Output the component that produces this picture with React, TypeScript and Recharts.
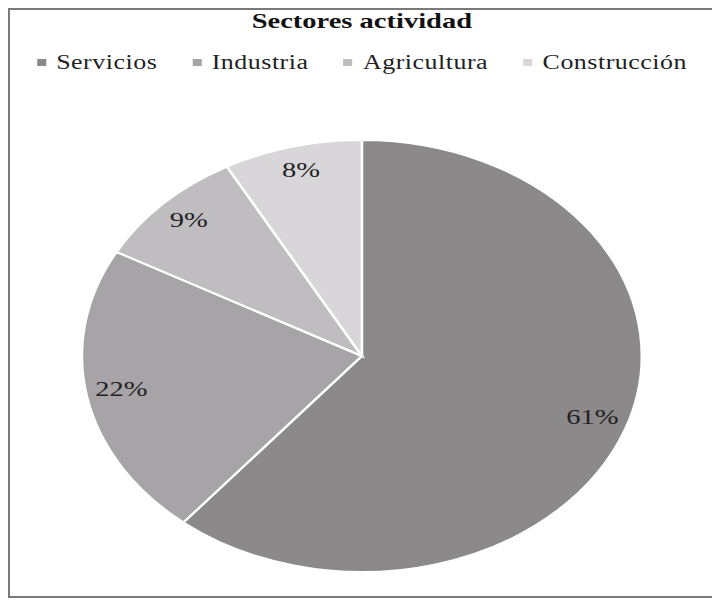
import { PieChart, Pie, Cell, Legend } from 'recharts'

const sectors = ['Servicios', 'Industria', 'Agricultura', 'Construcción']
const shares = [61, 22, 9, 8]
const colors = ['#8c898b', '#a7a4a7', '#c0bdc1', '#d9d6da']

const data = sectors.map((name, i) => ({ name, value: shares[i] }))

// the original picture is stretched horizontally
const STRETCH = 1.296
const W = 560
const CW = 543 // visible width, used for centering title / legend / pie
const H = 588
const RAD = Math.PI / 180

const renderLabel = (props: any) => {
  const { cx, cy, midAngle, outerRadius, value } = props
  const r = outerRadius * 0.875
  const x = cx + r * Math.cos(-midAngle * RAD)
  const y = cy + r * Math.sin(-midAngle * RAD) - 3
  return (
    <text
      x={x}
      y={y}
      textAnchor="middle"
      dominantBaseline="central"
      fill="#222"
      fontSize={22}
      fontFamily="'Liberation Serif', serif"
    >
      {value}%
    </text>
  )
}

// keep the legend in the original order (recharts sorts it otherwise)
const renderLegend = () => (
  <div style={{ display: 'flex', justifyContent: 'center', gap: 27, fontFamily: "'Liberation Serif', serif", fontSize: 20, lineHeight: '20px', letterSpacing: 0.4, color: '#222' }}>
    {sectors.map((s, i) => (
      <div key={s} style={{ display: 'flex', alignItems: 'center' }}>
        <span style={{ display: 'inline-block', width: 7, height: 7, background: colors[i], marginRight: 8 }} />
        <span>{s}</span>
      </div>
    ))}
  </div>
)

export default function App() {
  return (
    <>
      <style>{'html, body { overflow: hidden; }'}</style>
      <div
        style={{
          position: 'relative',
          width: 710,
          height: 586,
          borderLeft: '2px solid #7a7a7a',
          borderTop: '2px solid #7a7a7a',
          borderBottom: '2px solid #7a7a7a',
          background: '#fff',
          overflow: 'hidden',
        }}
      >
        <div style={{ position: 'absolute', left: 0, top: 0, width: W, height: H, transform: `scaleX(${STRETCH})`, transformOrigin: 'left top' }}>
          <div
            style={{
              position: 'absolute',
              top: 0,
              left: 0,
              width: CW,
              textAlign: 'center',
              fontFamily: "'Liberation Serif', serif",
              fontWeight: 'bold',
              fontSize: 22,
              lineHeight: '22px',
              color: '#111',
              zIndex: 2,
            }}
          >
            Sectores actividad
          </div>
          <PieChart width={W} height={H} margin={{ top: 0, right: 0, bottom: 0, left: 0 }}>
            <Legend
              verticalAlign="top"
              align="center"
              content={renderLegend}
              wrapperStyle={{ top: 42, left: 0, width: CW }}
            />
            <Pie
              data={data}
              dataKey="value"
              nameKey="name"
              cx={CW / 2}
              cy={326}
              outerRadius={216}
              startAngle={90}
              endAngle={-270}
              stroke="#fff"
              strokeWidth={2}
              label={renderLabel}
              labelLine={false}
              isAnimationActive={false}
            >
              {data.map((d, i) => (
                <Cell key={d.name} fill={colors[i]} />
              ))}
            </Pie>
          </PieChart>
        </div>
      </div>
    </>
  )
}
